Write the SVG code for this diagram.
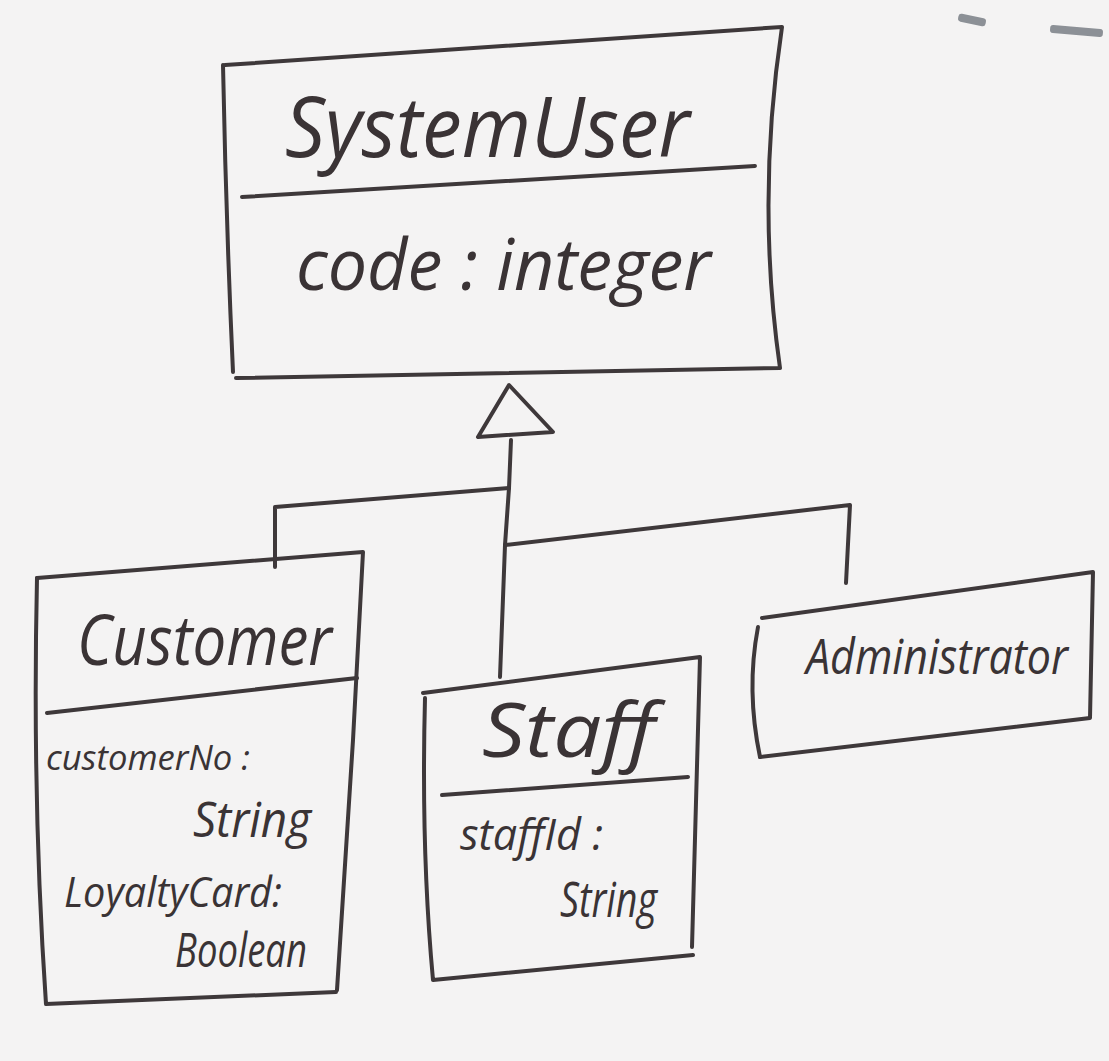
<svg xmlns="http://www.w3.org/2000/svg" width="1109" height="1061" viewBox="0 0 1109 1061">
  <style>
    .ink { fill: none; stroke: #3e383a; stroke-width: 4; stroke-linecap: round; stroke-linejoin: round; }
    .hand { font-family: "Open Sans", "DejaVu Sans", sans-serif; font-style: italic; fill: #3a3335; }
  </style>
  <rect width="1109" height="1061" fill="#f4f3f3"/>
  <!-- staple marks -->
  <g fill="#8c9096">
    <rect x="958" y="16" width="28" height="8" rx="3" transform="rotate(12 972 20)"/>
    <rect x="1050" y="27" width="53" height="8" rx="3" transform="rotate(5 1076 31)"/>
  </g>

  <g id="connectors">
    <path class="ink" d="M509,385 L478,437 L553,432 Z"/>
    <path class="ink" d="M511,440 L509,488 L505,545 L500,677"/>
    <path class="ink" d="M509,488 L275,507 L275,567"/>
    <path class="ink" d="M505,545 L850,505 L846,583"/>
  </g>

  <g id="systemuser">
    <path class="ink" d="M225,65 L782,27 Q756,200 780,368 L236,378"/>
    <path class="ink" d="M223,65 Q226,220 233,372"/>
    <path class="ink" d="M242,197 L755,166"/>
    <text class="hand" x="285" y="157" font-size="84" textLength="405" lengthAdjust="spacingAndGlyphs">SystemUser</text>
    <text class="hand" x="296" y="290" font-size="72" textLength="415" lengthAdjust="spacingAndGlyphs">code : integer</text>
  </g>

  <g id="customer">
    <path class="ink" d="M37,578 L363,552 L353,740 L337,990"/>
    <path class="ink" d="M37,578 Q32,800 46,1004 L336,992"/>
    <path class="ink" d="M47,713 L357,678"/>
    <text class="hand" x="77" y="665" font-size="70" textLength="255" lengthAdjust="spacingAndGlyphs">Customer</text>
    <text class="hand" x="46" y="770" font-size="34" textLength="204" lengthAdjust="spacingAndGlyphs">customerNo :</text>
    <text class="hand" x="193" y="837" font-size="50" textLength="118" lengthAdjust="spacingAndGlyphs">String</text>
    <text class="hand" x="64" y="907" font-size="42" textLength="218" lengthAdjust="spacingAndGlyphs">LoyaltyCard:</text>
    <text class="hand" x="175" y="967" font-size="48" textLength="132" lengthAdjust="spacingAndGlyphs">Boolean</text>
  </g>

  <g id="staff">
    <path class="ink" d="M423,693 L700,657 L692,947"/>
    <path class="ink" d="M425,698 Q421,850 433,980 L693,955"/>
    <path class="ink" d="M442,795 L688,777"/>
    <text class="hand" x="482" y="757" font-size="75" textLength="173" lengthAdjust="spacingAndGlyphs">Staff</text>
    <text class="hand" x="460" y="850" font-size="44" textLength="143" lengthAdjust="spacingAndGlyphs">staffId :</text>
    <text class="hand" x="560" y="917" font-size="50" textLength="97" lengthAdjust="spacingAndGlyphs">String</text>
  </g>

  <g id="administrator">
    <path class="ink" d="M762,618 L1093,572 L1090,718 L760,757"/>
    <path class="ink" d="M758,627 Q746,690 760,757"/>
    <text class="hand" x="806" y="674" font-size="50" textLength="262" lengthAdjust="spacingAndGlyphs">Administrator</text>
  </g>
</svg>
